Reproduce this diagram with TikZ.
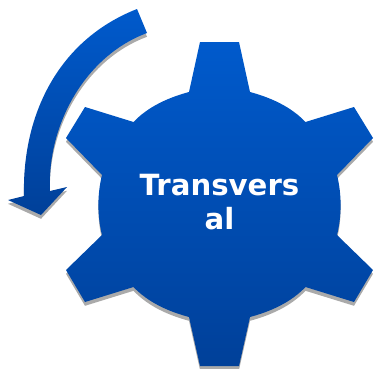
\documentclass[tikz,border=0pt]{standalone}
\usepackage{fontspec}
\setmainfont{DejaVu Sans}
\newcommand{\gearshape}{(200,42)--(239,42)--(250,92) .. controls (270.7,97.6) and (290.7,106.5) .. (305.5,122) -- (354,107)--(373,138)--(337,175) .. controls (341.8,194.2) and (341.8,215.8) .. (337,235)--(373,270)--(354,302)--(305.5,287) .. controls (290.7,302.5) and (270.7,311.4) .. (250,317)--(239,366)--(200,366)--(189,317) .. controls (168.3,311.4) and (148.3,302.5) .. (133.5,287)--(85,302)--(66,270)--(102,235) .. controls (97.2,215.8) and (97.2,194.2) .. (102,175)--(66,138)--(85,107)--(133.5,122) .. controls (148.3,106.5) and (168.3,97.6) .. (189,92)--cycle}
\newcommand{\arrowshape}{(137,9) .. controls (58,40) and (22,115) .. (24,196)--(8,200)--(41,215)--(67,187)--(50,191) .. controls (47,125) and (85,56) .. (147,33)--cycle}
\definecolor{bluetop}{RGB}{0,90,204}
\definecolor{bluebottom}{RGB}{0,64,153}
\definecolor{shadowgray}{RGB}{170,170,170}
\tikzset{
  blueshape/.style={top color=bluetop,bottom color=bluebottom,draw=none},
  dropshadow/.style={fill=shadowgray,draw=none,shift={(0,3.8)}},
  gearlabel/.style={text=white,align=center,font=\fontsize{29.2}{34}\selectfont\bfseries,inner sep=0pt}
}
\begin{document}
\begin{tikzpicture}[x=1pt,y=-1pt]
\clip (0,0) rectangle (377,368);
\path[dropshadow] \arrowshape;
\path[dropshadow] \gearshape;
\shade[blueshape] \arrowshape;
\shade[blueshape] \gearshape;
\node[gearlabel] (label) at (219.5,202.5) {Transvers\\al};
\end{tikzpicture}
\end{document}
